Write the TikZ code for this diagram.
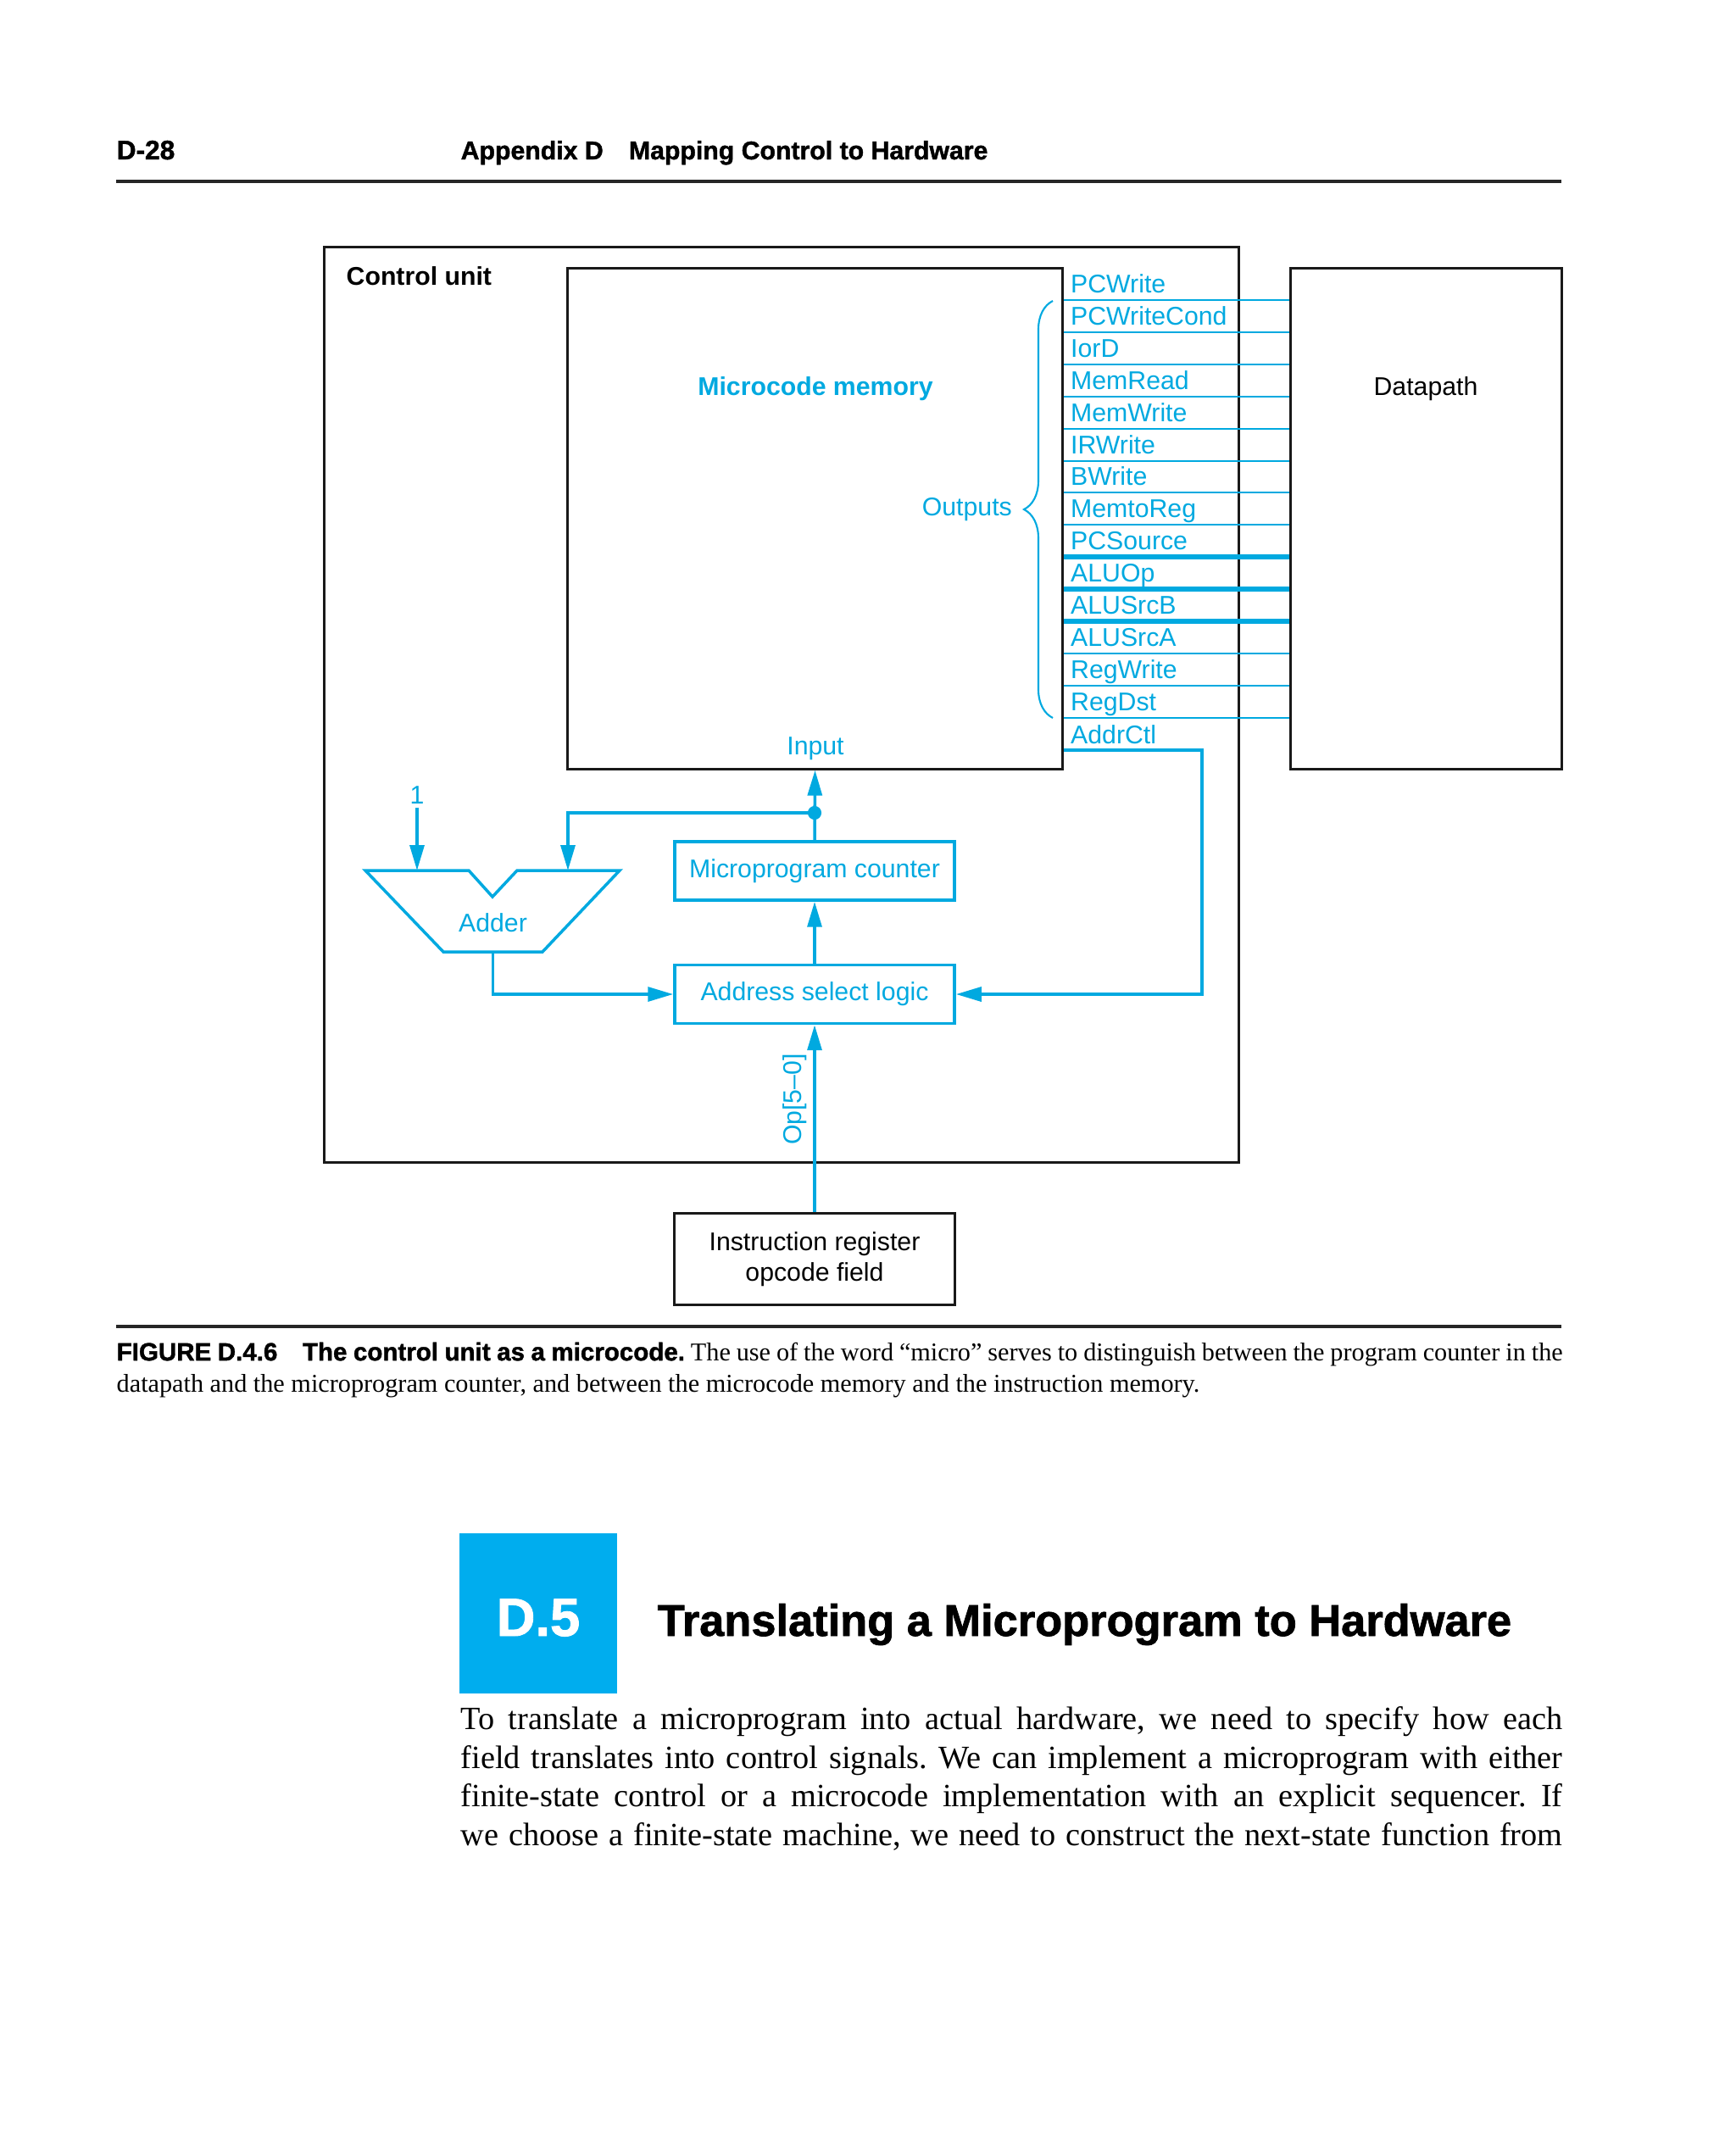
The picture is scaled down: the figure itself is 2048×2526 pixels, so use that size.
\documentclass[tikz,border=0pt]{standalone}
\usepackage{fontspec}
\setmainfont{Liberation Sans}
\newfontfamily\bodyserif{Liberation Serif}
\newfontfamily\headfont[BoldFeatures={FakeBold=1.4}]{Liberation Sans}
\usetikzlibrary{arrows.meta,positioning,calc,decorations.pathreplacing}
\definecolor{mblue}{RGB}{0,169,224}
\definecolor{secblue}{RGB}{0,173,238}
\newcommand\dgfont{\fontsize{8.6}{10.1}\selectfont}
\tikzset{
  box/.style={draw=black!90,line width=0.85pt,inner sep=0pt},
  bbox/.style={draw=mblue,line width=1pt,text=mblue,font=\dgfont,
               minimum width=3.3cm,minimum height=0.69cm,inner sep=0pt},
  lbl/.style={font=\dgfont,text=mblue,inner sep=1pt},
  sig/.style={mblue,line width=0.75pt},
  sigw/.style={sig,line width=1.6pt},
  fl/.style={mblue,line width=1pt,-{Triangle[length=8.5pt,width=4.8pt]}},
}

\begin{document}
\begin{tikzpicture}[x=0.01cm, y=-0.01cm]
  \useasboundingbox (0,0) rectangle (2048,2526);
  % running head
  \node[anchor=base west,inner sep=0pt,
        font=\headfont\bfseries\fontsize{9}{10}\selectfont] (pg) at (137,188) {D-28};
  \node[anchor=base west,inner sep=0pt,
        font=\headfont\bfseries\fontsize{8.6}{10}\selectfont] (hd) at (543,188)
       {Appendix D\quad Mapping Control to Hardware};
  \draw[line width=1.1pt,black!85] (137,214) -- (1842,214);

  % boxes
  \node[box,minimum width=10.78cm,minimum height=10.79cm] (cu) at (922,831.5) {};
  \node[box,minimum width=5.83cm,minimum height=5.9cm] (mem) at (961.5,612) {};
  \node[box,minimum width=3.19cm,minimum height=5.9cm] (dp) at (1682.5,612) {};
  \node[anchor=west,inner sep=0pt,font=\dgfont\bfseries] (cul) at (408,326) {Control unit};
  \node[lbl,font=\dgfont\bfseries] (meml) at (962,459) {Microcode memory};
  \node[font=\dgfont] (dpl) at (1682,459) {Datapath};
  \node[lbl,anchor=east] (outl) at (1198,601) {Outputs};
  \node[lbl] (inl) at (962,883) {Input};
  \draw[mblue,line width=0.6pt,decorate,decoration={brace,amplitude=0.34cm}]
       (1242,847) -- (1242,355);

  % control signals
  \node[lbl,anchor=base west] (s1) at (1259,345) {PCWrite};
  \node[lbl,anchor=base west] (s2) at (1259,383) {PCWriteCond};
  \node[lbl,anchor=base west] (s3) at (1259,421) {IorD};
  \node[lbl,anchor=base west] (s4) at (1259,459) {MemRead};
  \node[lbl,anchor=base west] (s5) at (1259,497) {MemWrite};
  \node[lbl,anchor=base west] (s6) at (1259,535) {IRWrite};
  \node[lbl,anchor=base west] (s7) at (1259,572) {BWrite};
  \node[lbl,anchor=base west] (s8) at (1259,610) {MemtoReg};
  \node[lbl,anchor=base west] (s9) at (1259,648) {PCSource};
  \node[lbl,anchor=base west] (s10) at (1259,686) {ALUOp};
  \node[lbl,anchor=base west] (s11) at (1259,724) {ALUSrcB};
  \node[lbl,anchor=base west] (s12) at (1259,762) {ALUSrcA};
  \node[lbl,anchor=base west] (s13) at (1259,800) {RegWrite};
  \node[lbl,anchor=base west] (s14) at (1259,838) {RegDst};
  \node[lbl,anchor=base west] (s15) at (1259,877) {AddrCtl};
  \draw[sig] (mem.east |- 0,354) -- (dp.west |- 0,354);
  \draw[sig] (mem.east |- 0,392) -- (dp.west |- 0,392);
  \draw[sig] (mem.east |- 0,430) -- (dp.west |- 0,430);
  \draw[sig] (mem.east |- 0,468) -- (dp.west |- 0,468);
  \draw[sig] (mem.east |- 0,506) -- (dp.west |- 0,506);
  \draw[sig] (mem.east |- 0,544) -- (dp.west |- 0,544);
  \draw[sig] (mem.east |- 0,581) -- (dp.west |- 0,581);
  \draw[sig] (mem.east |- 0,619) -- (dp.west |- 0,619);
  \draw[sigw] (mem.east |- 0,657) -- (dp.west |- 0,657);
  \draw[sigw] (mem.east |- 0,695) -- (dp.west |- 0,695);
  \draw[sigw] (mem.east |- 0,733) -- (dp.west |- 0,733);
  \draw[sig] (mem.east |- 0,771) -- (dp.west |- 0,771);
  \draw[sig] (mem.east |- 0,809) -- (dp.west |- 0,809);
  \draw[sig] (mem.east |- 0,847) -- (dp.west |- 0,847);

  % sequencer
  \node[bbox] (mpc) at (961,1027.5) {Microprogram counter};
  \node[bbox] (asl) at (961,1173) {Address select logic};
  \node[box,minimum width=3.3cm,minimum height=1.07cm,align=center,
        font=\dgfont] (ir) at (961,1485.5) {Instruction register\\opcode field};
  \draw[mblue,line width=1pt] (431,1027) -- (553,1027) -- (581,1058) -- (610,1027)
       -- (731,1027) -- (640,1123) -- (523,1123) -- cycle;
  \node[lbl] (add) at (581.5,1089) {Adder};
  \node[lbl] (one) at (492,938) {1};
  \coordinate (ain1) at (492,1027);
  \coordinate (ain2) at (670,1027);
  \coordinate (aout) at (581.5,1123);
  \coordinate (jn) at (961,959);
  \coordinate (ac) at (1418,885);
  \draw[fl] (mpc.north) -- (mem.south);
  \fill[mblue] (jn) circle[radius=2.3pt];
  \draw[fl] (jn) -| (ain2);
  \draw[fl] (one) -- (ain1);
  \draw[fl] (aout) |- (asl.west);
  \draw[fl] (asl) -- (mpc);
  \draw[fl] (mem.east |- ac) -- (ac) |- (asl.east);
  \draw[fl] (ir) -- (asl);
  \node[lbl,rotate=90] (opl) at (938,1297) {Op[5–0]};

  % caption
  \draw[line width=1pt,black!85] (137,1565) -- (1842,1565);
  \node[anchor=north west,inner sep=0pt,align=left,
        font=\bodyserif\fontsize{8.6}{10.5}\selectfont\frenchspacing] (cap) at (137,1583)
       {\makebox[17.05cm][s]{{\headfont\bfseries\fontsize{8.4}{10.5}\selectfont
        FIGURE D.4.6\quad The control unit as a microcode.}\ The use of the word
        “micro” serves to distinguish between the program counter in the}\\
        datapath and the microprogram counter, and between the microcode memory
        and the instruction memory.};

  % next section
  \node[fill=secblue,minimum width=1.85cm,minimum height=1.885cm,
        inner sep=0pt] (secbox) at (635,1903.5) {};
  \node[anchor=base,inner sep=0pt,text=white,
        font=\headfont\bfseries\fontsize{18}{20}\selectfont] (secno) at (635,1930) {D.5};
  \node[anchor=base west,inner sep=0pt,
        font=\headfont\bfseries\fontsize{14.9}{16}\selectfont] (sect) at (775,1930)
       {Translating a Microprogram to Hardware};
  \node[anchor=north west,inner sep=0pt,align=left,
        font=\bodyserif\fontsize{10.9}{12.95}\selectfont\frenchspacing] (para) at (543,2013)
       {\makebox[12.99cm][s]{To translate a microprogram into actual hardware, we need to specify how each}\\
        \makebox[12.99cm][s]{field translates into control signals. We can implement a microprogram with either}\\
        \makebox[12.99cm][s]{finite-state control or a microcode implementation with an explicit sequencer. If}\\
        \makebox[12.99cm][s]{we choose a finite-state machine, we need to construct the next-state function from}};
\end{tikzpicture}
\end{document}
